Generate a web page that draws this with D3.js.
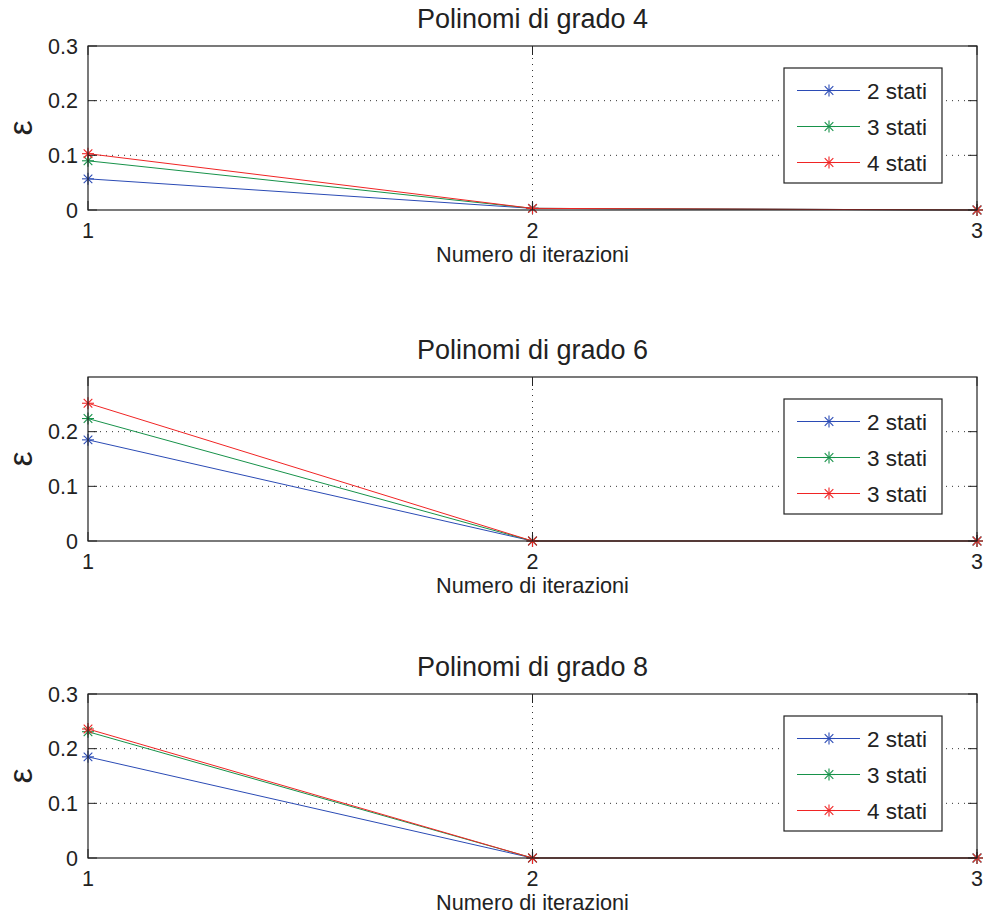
<!DOCTYPE html>
<html lang="it">
<head>
<meta charset="UTF-8">
<title>Polinomi</title>
<script src="https://d3js.org/d3.v7.min.js"></script>
<style>
  body { margin: 0; background: #fff; }
  text { font-family: "Liberation Sans", Arial, sans-serif; fill: #222; }
  .grid { stroke: #333; stroke-width: 1; stroke-dasharray: 1 5; }
</style>
</head>
<body>
<svg width="984" height="917"></svg>
<script>
// dati
const iterazioni = [1, 2, 3];
const titoli = ["Polinomi di grado 4", "Polinomi di grado 6", "Polinomi di grado 8"];
const legende = [
  ["2 stati", "3 stati", "4 stati"],
  ["2 stati", "3 stati", "3 stati"],
  ["2 stati", "3 stati", "4 stati"]
];
const yTicks = [[0, 0.1, 0.2, 0.3], [0, 0.1, 0.2], [0, 0.1, 0.2, 0.3]];

const grado4_2 = [0.057, 0.003, 0];
const grado4_3 = [0.090, 0.003, 0];
const grado4_4 = [0.103, 0.003, 0];
const grado6_2 = [0.185, 0, 0];
const grado6_3 = [0.224, 0, 0];
const grado6_4 = [0.252, 0, 0];
const grado8_2 = [0.185, 0, 0];
const grado8_3 = [0.231, 0, 0];
const grado8_4 = [0.236, 0, 0];

const serie = [
  [grado4_2, grado4_3, grado4_4],
  [grado6_2, grado6_3, grado6_4],
  [grado8_2, grado8_3, grado8_4]
];
const colori = ["#2b4bb5", "#17924a", "#f02424"];

const svg = d3.select("svg");
const left = 88, right = 977, h = 164;
const tops = [46, 377, 694];

const x = d3.scaleLinear().domain([1, 3]).range([left, right]);

function asterisk(g, cx, cy, color) {
  const r = 6;
  const s = g.append("g").attr("transform", `translate(${cx},${cy})`)
    .attr("stroke", color).attr("stroke-width", 1.1);
  s.append("line").attr("x1", -r).attr("x2", r).attr("y1", 0).attr("y2", 0);
  s.append("line").attr("x1", 0).attr("x2", 0).attr("y1", -r).attr("y2", r);
  const d = r * 0.72;
  s.append("line").attr("x1", -d).attr("x2", d).attr("y1", -d).attr("y2", d);
  s.append("line").attr("x1", -d).attr("x2", d).attr("y1", d).attr("y2", -d);
}

tops.forEach((top, p) => {
  const bottom = top + h;
  const y = d3.scaleLinear().domain([0, 0.3]).range([bottom, top]);
  const g = svg.append("g");

  // griglia
  yTicks[p].filter(t => t > 0 && t < 0.3).forEach(t => {
    g.append("line").attr("class", "grid")
      .attr("x1", left).attr("x2", right).attr("y1", y(t)).attr("y2", y(t));
  });
  g.append("line").attr("class", "grid")
    .attr("x1", x(2)).attr("x2", x(2)).attr("y1", top).attr("y2", bottom);

  // serie
  serie[p].forEach((vals, i) => {
    const pts = iterazioni.map((it, k) => [x(it), y(vals[k])]);
    g.append("path")
      .attr("d", d3.line()(pts))
      .attr("fill", "none")
      .attr("stroke", colori[i])
      .attr("stroke-width", 1);
    pts.forEach(pt => asterisk(g, pt[0], pt[1], colori[i]));
  });

  // box assi
  g.append("rect").attr("x", left).attr("y", top).attr("width", right - left).attr("height", h)
    .attr("fill", "none").attr("stroke", "#222").attr("stroke-width", 1.2);

  // tick y
  yTicks[p].forEach(t => {
    g.append("line").attr("x1", left).attr("x2", left + 9).attr("y1", y(t)).attr("y2", y(t))
      .attr("stroke", "#222");
    g.append("line").attr("x1", right).attr("x2", right - 9).attr("y1", y(t)).attr("y2", y(t))
      .attr("stroke", "#222");
    g.append("text").attr("x", 78).attr("y", y(t)).attr("dy", "0.36em")
      .attr("text-anchor", "end").attr("font-size", 21.5).text(t === 0 ? "0" : d3.format(".1f")(t));
  });

  // tick x
  iterazioni.forEach(it => {
    g.append("line").attr("x1", x(it)).attr("x2", x(it)).attr("y1", bottom).attr("y2", bottom - 9)
      .attr("stroke", "#222");
    g.append("line").attr("x1", x(it)).attr("x2", x(it)).attr("y1", top).attr("y2", top + 9)
      .attr("stroke", "#222");
    g.append("text").attr("x", x(it)).attr("y", bottom + 27.5)
      .attr("text-anchor", "middle").attr("font-size", 21.5).text(it);
  });

  // titoli ed etichette
  g.append("text").attr("x", (left + right) / 2).attr("y", top - 18)
    .attr("text-anchor", "middle").attr("font-size", 27).text(titoli[p]);
  g.append("text").attr("x", (left + right) / 2).attr("y", bottom + 52)
    .attr("text-anchor", "middle").attr("font-size", 21.7).text("Numero di iterazioni");
  g.append("text")
    .attr("transform", `translate(22,${top + h / 2}) rotate(-90)`)
    .attr("text-anchor", "middle").attr("dy", "0.3em")
    .attr("font-family", "DejaVu Sans").attr("font-size", 34).text("ε");

  // legenda
  const lx = 784, lw = 158, ly = top + 22, lh = 115;
  const leg = g.append("g");
  leg.append("rect").attr("x", lx).attr("y", ly).attr("width", lw).attr("height", lh)
    .attr("fill", "#fff").attr("stroke", "#222").attr("stroke-width", 1.2);
  legende[p].forEach((lab, i) => {
    const cy = ly + 22.5 + i * 36;
    leg.append("line").attr("x1", lx + 13).attr("x2", lx + 76).attr("y1", cy).attr("y2", cy)
      .attr("stroke", colori[i]).attr("stroke-width", 1);
    asterisk(leg, lx + 45, cy, colori[i]);
    leg.append("text").attr("x", lx + 83).attr("y", cy).attr("dy", "0.36em")
      .attr("font-size", 22.5).text(lab);
  });
});
</script>
</body>
</html>
